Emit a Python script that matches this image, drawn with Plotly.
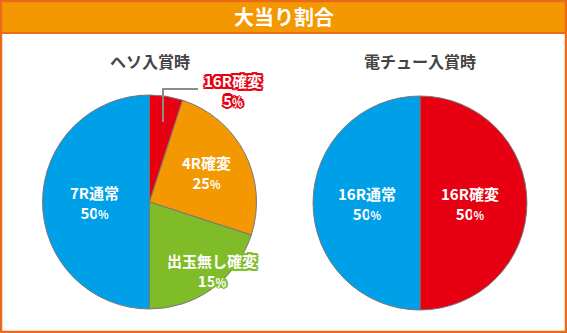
import math
import plotly.graph_objects as go

W, H = 567, 333

# ---------------- data ----------------
title_text = "大当り割合"
left_title = "ヘソ入賞時"
right_title = "電チュー入賞時"

left_labels = ["16R確変", "4R確変", "出玉無し確変", "7R通常"]
left_pct_text = ["5", "25", "15", "50"]          # printed percentages
left_slice_share = [5, 25, 20, 50]               # slice sizes as drawn
left_colors = ["#e60012", "#f39800", "#80bc28", "#00a0e9"]

right_labels = ["16R確変", "16R通常"]
right_pct_text = ["50", "50"]
right_slice_share = [50, 50]
right_colors = ["#e60012", "#00a0e9"]

# ---------------- layout helpers ----------------
FONT = "Noto Sans CJK JP, Noto Sans, sans-serif"
left_center = (149.5, 202.0)
right_center = (420.0, 203.0)
radius = 107.0


def px_x(x):
    return x / W


def px_y(y):
    return 1 - y / H


def domain(center):
    cx, cy = center
    return dict(x=[px_x(cx - radius), px_x(cx + radius)],
                y=[px_y(cy + radius), px_y(cy - radius)])


def outline(c, w=1.7):
    parts = []
    for dx, dy in [(-w, -w), (w, -w), (-w, w), (w, w), (0, 2.2), (2.2, 0), (0, -2.2), (-2.2, 0)]:
        parts.append(f"{dx}px {dy}px 0 {c}")
    return ", ".join(parts)


fig = go.Figure()

for vals, labs, cols, center in [
    (left_slice_share, left_labels, left_colors, left_center),
    (right_slice_share, right_labels, right_colors, right_center),
]:
    fig.add_trace(go.Pie(
        values=vals, labels=labs, sort=False, direction="clockwise", rotation=0,
        marker=dict(colors=cols, line=dict(color="#777777", width=1)),
        textinfo="none", hoverinfo="label+percent", showlegend=False,
        domain=domain(center),
    ))

shapes = []
# outer frame and title bar
shapes.append(dict(type="rect", xref="paper", yref="paper", x0=0, x1=1, y0=px_y(33), y1=1,
                   fillcolor="#f39800", line=dict(width=0), layer="below"))
shapes.append(dict(type="line", xref="paper", yref="paper", x0=0, x1=1, y0=px_y(33), y1=px_y(33),
                   line=dict(color="#ea6a1a", width=2)))
shapes.append(dict(type="rect", xref="paper", yref="paper", x0=px_x(1), x1=px_x(W - 1),
                   y0=px_y(H - 1), y1=px_y(1), line=dict(color="#ea6a1a", width=2.5)))
# leader line for small slice
shapes.append(dict(type="path", xref="paper", yref="paper",
                   path=f"M {px_x(163)},{px_y(122)} L {px_x(163)},{px_y(89)} L {px_x(198)},{px_y(89)}",
                   line=dict(color="#8c8c8c", width=2)))

annotations = []


def ann(text, x, y, font):
    return dict(text=text, x=x, y=y, xref="paper", yref="paper", showarrow=False,
                xanchor="center", yanchor="middle", align="center", font=font)


annotations.append(ann(f"<b>{title_text}</b>", 0.5, px_y(17),
                       dict(family=FONT, size=20, color="white", weight=900)))
for t, c in [(left_title, left_center), (right_title, right_center)]:
    annotations.append(ann(f"<b>{t}</b>", px_x(c[0]), px_y(61),
                           dict(family=FONT, size=16, color="#444444", weight=900)))


def label_center(center, angle_deg, rfrac):
    a = math.radians(angle_deg)
    x = center[0] + rfrac * radius * math.sin(a)
    y = center[1] - rfrac * radius * math.cos(a)
    return x, y


# (angle from 12 o'clock, radial fraction) for each label
left_label_place = [(36.8, 1.30), (63, 0.60), (137.6, 0.87), (270, 0.51)]
right_label_place = [(90, 0.47), (270, 0.50)]

for labs, pcts, cols, places, center in [
    (left_labels, left_pct_text, left_colors, left_label_place, left_center),
    (right_labels, right_pct_text, right_colors, right_label_place, right_center),
]:
    for lab, p, col, (ang, rf) in zip(labs, pcts, cols, places):
        x, y = label_center(center, ang, rf)
        f = dict(family=FONT, size=15, color="white", weight=900, shadow=outline(col))
        annotations.append(ann(f"<b>{lab}<br>{p}<span style='font-size:11px'>%</span></b>",
                               px_x(x), px_y(y), f))

fig.update_layout(
    width=W, height=H, margin=dict(l=0, r=0, t=0, b=0),
    paper_bgcolor="white", plot_bgcolor="white",
    shapes=shapes, annotations=annotations,
)

fig.write_html("out.html")
